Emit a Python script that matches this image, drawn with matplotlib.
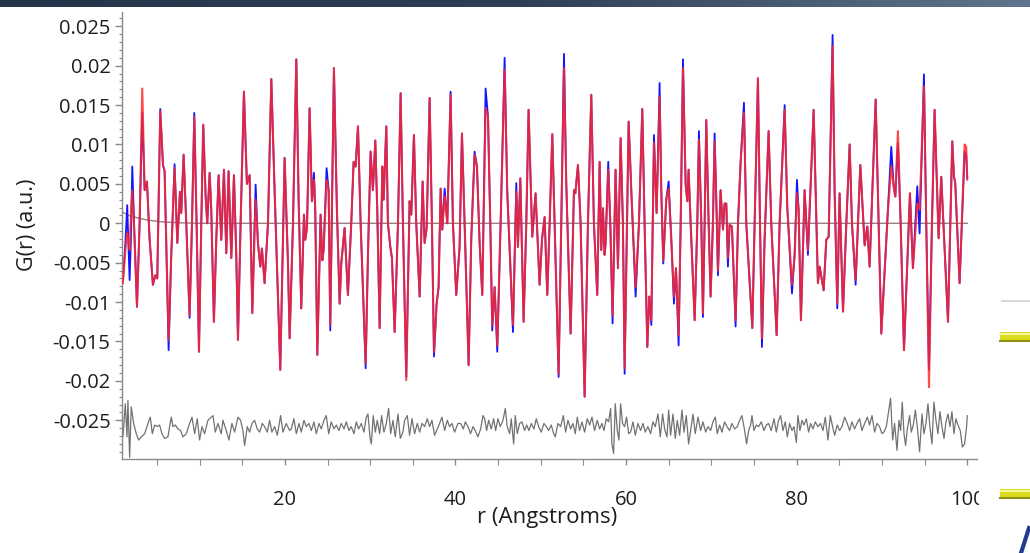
import numpy as np
import matplotlib
matplotlib.use("Agg")
import matplotlib.pyplot as plt
from matplotlib.ticker import MultipleLocator, FixedLocator, FixedFormatter
from matplotlib.patches import Rectangle
from matplotlib.lines import Line2D
from matplotlib.colors import LinearSegmentedColormap

plt.rcParams['font.family'] = ['Open Sans', 'DejaVu Sans']

# ---------------- data (G values in units of 1e-3) ----------------
r_pts = [
    1.00, 1.30, 1.52, 1.65, 1.80, 1.95, 2.11, 2.38, 2.66, 2.97,
    3.28, 3.56, 3.83, 4.14, 4.53, 4.81, 5.04, 5.39, 5.71, 5.90,
    6.37, 6.68, 7.07, 7.39, 7.70, 7.85, 8.13, 8.44, 8.83, 9.11,
    9.38, 9.65, 9.93, 10.20, 10.43, 10.71, 10.90, 11.18, 11.37, 11.68,
    11.96, 12.23, 12.54, 12.86, 13.13, 13.40, 13.72, 14.03, 14.30, 14.50,
    14.81, 15.20, 15.55, 15.87, 16.18, 16.57, 16.84, 17.12, 17.31, 17.62,
    18.02, 18.41, 18.80, 19.46, 19.97, 20.36, 20.56,
    20.95, 21.34, 21.61, 21.92, 22.24, 22.39, 22.59, 22.90, 23.17, 23.41,
    23.56, 23.80, 24.19, 24.39, 24.54, 24.89, 25.13, 25.32, 25.75, 26.10,
    26.42, 26.61, 27.00, 27.39, 27.78, 28.06, 28.29, 28.57, 28.88, 29.47,
    29.74, 30.05, 30.32, 30.60, 30.83, 31.11, 31.42, 31.58, 31.89, 32.08,
    32.36, 32.55, 32.87, 33.26, 33.57, 33.84, 34.23, 34.62, 34.82, 35.13,
    35.40, 35.80, 36.15, 36.38, 36.62, 36.97, 37.24, 37.48, 37.79, 38.02,
    38.26, 38.45, 38.73, 39.04, 39.43, 39.70, 40.09, 40.48,
    40.76, 41.07, 41.54, 41.85, 42.24, 42.52, 42.83, 43.14, 43.53, 43.81,
    44.08, 44.31, 44.59, 44.90, 45.29, 45.76, 46.07, 46.74, 47.13, 47.32,
    47.60, 47.99, 48.30, 48.57, 49.00, 49.39, 49.67, 49.86, 50.14, 50.45,
    50.76, 51.04, 51.35, 51.62, 52.09, 52.40, 52.72, 52.99, 53.50, 53.89,
    54.05, 54.36, 54.67, 55.14, 55.53, 55.92, 56.23, 56.62, 56.90, 57.09,
    57.29, 57.48, 57.60, 57.91, 58.15, 58.42, 58.77, 59.05, 59.36, 59.63,
    59.83, 60.30,
    60.61, 61.12, 61.51, 61.90, 62.17, 62.49, 62.72, 62.96, 63.27, 63.58,
    63.93, 64.13, 64.36, 64.71, 64.99, 65.30, 65.61, 65.85, 66.16, 66.40,
    66.67, 66.98, 67.18, 67.33, 67.57, 68.04, 68.35, 68.54, 68.82, 69.01,
    69.21, 69.40, 69.68, 69.91, 70.18, 70.38, 70.60, 70.77, 71.08, 71.36,
    71.55, 71.75, 71.94, 72.14, 72.41, 72.84, 73.12, 73.43, 73.82, 74.09,
    74.80, 75.07, 75.46, 75.70, 75.93, 76.24, 76.71, 77.02, 77.65, 78.00,
    78.59, 78.90, 79.45, 79.76, 80.03, 80.23, 80.50,
    80.93, 81.32, 81.99, 82.49, 82.69, 83.16, 83.47, 83.75, 84.21, 84.45,
    84.76, 85.03, 85.43, 85.82, 86.21, 86.48, 86.91, 87.46, 87.97, 88.28,
    88.55, 89.26, 89.92, 90.70, 91.09, 91.37, 91.56, 91.87, 92.19, 92.58,
    93.28, 93.63, 94.14, 94.41, 94.92, 95.19, 95.51, 95.86, 96.17, 96.64,
    96.95, 97.74, 98.24, 98.44, 98.59, 99.10, 99.69, 99.88, 100.00,
]

g_obs_milli = [
    -7.6, -2.5, 2.3, -2.5, -7.2, -2.0, 7.2, -2.0, -10.6, 0.0,
    14.0, 4.2, 5.3, -2.0, -7.8, -6.6, -7.0, 14.5, 7.4, 6.6,
    -16.1, -4.0, 7.5, -2.5, 4.0, 1.3, 8.7, 0.0, -12.0, 0.0,
    14.0, 0.0, -16.3, 0.0, 12.5, 3.4, 0.0, 6.4, 1.7, -12.5,
    -2.0, 6.1, -2.1, 6.8, -3.8, 6.6, -4.4, 6.1, -4.0, -14.8,
    0.0, 16.7, 5.0, 6.1, -11.4, 4.9, -2.5, -5.5, -3.2, -7.6,
    0.0, 18.3, 4.0, -18.6, 8.3, -5.0, -14.6,
    0.0, 20.8, 3.0, -10.8, 1.1, -2.1, -0.6, 14.6, 2.8, 6.4,
    1.7, -16.7, 1.1, -4.7, -3.4, 7.0, 4.2, -13.6, 19.7, 1.7,
    -10.2, -5.1, -0.6, -9.1, 0.0, 7.8, 7.2, 12.3, 0.0, -18.4,
    -4.0, 9.1, 4.2, 10.5, 1.7, -13.3, 7.2, 3.0, 12.3, 0.0,
    -3.0, -4.4, -13.8, 0.0, 16.5, 0.0, -19.5, 2.8, 1.1, 11.2,
    0.0, -9.3, 5.3, -2.5, -0.6, 15.9, 0.0, -16.9, -10.2, -8.1,
    4.4, -0.8, 4.4, 0.0, 16.7, 0.0, -9.1, -3.0,
    11.4, 0.0, -18.0, -2.0, 9.1, 7.2, -2.5, -9.1, 17.1, 13.6,
    0.0, -13.6, -8.1, -16.3, 0.0, 21.0, 4.0, -13.8, 5.1, -3.0,
    5.7, -12.5, 0.0, 14.4, -1.7, 3.8, -3.0, -7.8, -2.1, 0.8,
    -9.1, 0.0, 11.3, 0.0, -19.5, 0.0, 21.5, 5.0, -14.0, 4.2,
    3.8, 7.4, 0.0, -22.0, 0.0, 16.3, 0.0, -9.1, 7.8, -3.4,
    1.9, -4.0, -2.5, 7.8, 0.0, -12.7, 6.8, -5.7, 10.8, 0.0,
    -19.1, 12.9,
    4.2, -9.3, 0.0, 14.5, 0.0, -15.7, -9.3, -12.9, 11.2, 1.3,
    17.8, 4.0, -5.1, 3.0, 5.3, -2.0, -10.2, -5.7, -15.5, 0.0,
    20.8, 5.0, 2.8, 6.8, 0.0, -12.3, 0.0, 11.7, 0.0, -11.9,
    0.0, 13.1, 0.0, -9.3, 0.0, 11.4, 2.0, -6.6, 4.2, -0.8,
    2.5, 2.5, -5.5, -0.2, -0.4, -13.1, 0.0, 7.8, 15.3, 0.0,
    -13.3, 0.0, 18.4, 0.0, -15.7, -2.0, 11.7, 0.0, -14.2, 0.0,
    15.0, 2.0, -8.9, -4.0, 5.5, 1.7, -12.3,
    4.2, -4.0, 14.4, -7.6, -5.5, -8.5, -2.1, -1.7, 23.9, 4.0,
    -10.8, 3.8, -11.2, 0.0, 10.0, 0.0, -7.8, 7.4, -2.8, -0.4,
    -5.5, 15.7, -14.0, 1.7, 9.7, 4.7, 3.4, 10.2, 0.0, -16.1,
    3.8, -5.7, 4.7, -1.3, 18.9, 0.0, -18.6, 0.0, 14.4, -1.9,
    5.9, -12.5, 10.4, 5.9, 5.1, -7.6, 9.1, 8.5, 5.7,
]

g_calc_milli = [
    -7.6, -3.4, -1.3, -2.1, -3.4, 0.8, 4.2, -2.0, -10.6, 0.0,
    17.1, 4.2, 5.3, -2.0, -7.8, -6.6, -7.0, 14.2, 7.4, 6.6,
    -14.8, -4.0, 7.0, -2.5, 4.0, 1.3, 8.7, 0.0, -11.7, 0.0,
    13.5, 0.0, -16.3, 0.0, 12.5, 3.4, 0.0, 6.4, 1.7, -12.5,
    -2.0, 6.1, -2.1, 6.8, -3.8, 6.6, -4.4, 6.1, -4.0, -14.8,
    0.0, 16.7, 5.0, 6.1, -11.4, 3.0, -2.5, -5.5, -3.2, -7.6,
    0.0, 18.3, 4.0, -18.6, 8.3, -5.0, -14.6,
    0.0, 20.8, 3.0, -10.8, 1.1, -2.1, -0.6, 14.6, 2.8, 5.5,
    1.7, -16.7, 1.1, -4.7, -3.4, 5.5, 4.2, -12.9, 19.7, 1.7,
    -10.2, -5.1, -0.6, -9.1, 0.0, 7.8, 7.2, 12.3, 0.0, -17.8,
    -4.0, 9.1, 4.2, 10.5, 1.7, -13.3, 7.2, 3.0, 12.3, 0.0,
    -3.0, -4.4, -13.8, 0.0, 16.5, 0.0, -19.9, 2.8, 1.1, 11.2,
    0.0, -9.3, 5.3, -2.5, -0.6, 15.9, 0.0, -16.3, -10.2, -8.1,
    4.4, -0.8, 3.4, 0.0, 16.3, 0.0, -9.1, -3.0,
    11.4, 0.0, -18.0, -2.0, 8.7, 7.2, -2.5, -9.1, 14.6, 13.6,
    0.0, -12.9, -8.1, -15.5, 0.0, 19.5, 4.0, -12.9, 4.0, -3.0,
    5.7, -12.5, 0.0, 14.4, -1.7, 3.8, -3.0, -7.8, -2.1, 0.8,
    -9.1, 0.0, 11.3, 0.0, -19.1, 0.0, 19.7, 5.0, -14.0, 4.2,
    3.8, 7.4, 0.0, -22.0, 0.0, 16.3, 0.0, -9.1, 7.8, -3.4,
    1.9, -4.0, -2.5, 6.8, 0.0, -11.7, 6.8, -5.7, 10.8, 0.0,
    -18.4, 12.9,
    4.2, -8.1, 0.0, 14.5, 0.0, -15.7, -9.3, -12.3, 10.2, 1.3,
    16.1, 4.0, -4.7, 3.0, 4.4, -2.0, -9.3, -5.7, -14.2, 0.0,
    19.7, 5.0, 2.8, 6.8, 0.0, -12.3, 0.0, 10.6, 0.0, -11.4,
    0.0, 13.1, 0.0, -9.3, 0.0, 10.4, 2.0, -6.0, 4.2, -0.8,
    2.5, 2.5, -4.4, -0.2, -0.4, -12.3, 0.0, 7.8, 14.0, 0.0,
    -13.3, 0.0, 18.4, 0.0, -14.6, -2.0, 11.7, 0.0, -14.2, 0.0,
    14.4, 2.0, -7.8, -4.0, 3.8, 1.7, -12.3,
    4.2, -3.4, 14.4, -7.6, -5.5, -8.5, -2.1, -1.7, 22.5, 4.0,
    -10.2, 3.8, -11.2, 0.0, 10.0, 0.0, -7.2, 7.4, -2.8, -0.4,
    -5.5, 15.7, -14.0, 1.7, 7.2, 4.7, 3.4, 11.7, 0.0, -16.1,
    3.8, -5.7, 2.5, 1.7, 17.4, 0.0, -20.8, 0.0, 14.4, -1.9,
    5.9, -12.5, 10.4, 5.9, 5.1, -7.6, 10.0, 9.7, 5.5,
]

# difference curve (drawn with its offset, as in the picture)
r_res = [
    1.02, 1.29, 1.49, 1.60, 1.80, 1.99, 2.27, 2.58, 2.85, 3.17,
    3.56, 3.95, 4.22, 4.46, 4.73, 5.04, 5.31, 5.59, 5.90, 6.29,
    6.68, 6.88, 7.15, 7.46, 7.78, 8.05, 8.44, 8.83, 9.11, 9.42,
    9.73, 10.00, 10.28, 10.59, 10.98, 11.57, 11.84, 12.15, 12.54, 12.74,
    13.13, 13.44, 13.79, 14.11, 14.50, 14.81, 15.08, 15.28, 15.59, 15.87,
    16.14, 16.45, 16.76, 17.04, 17.35, 17.62, 17.94, 18.21, 18.48, 18.80,
    19.11, 19.50, 19.77, 20.16, 20.56,
    20.75, 21.06, 21.34, 21.65, 21.92, 22.24, 22.51, 22.82, 23.10, 23.41,
    23.68, 24.00, 24.27, 24.58, 24.85, 25.13, 25.44, 25.75, 26.03, 26.34,
    26.61, 26.93, 27.20, 27.51, 27.78, 28.10, 28.37, 28.64, 28.96, 29.27,
    29.54, 29.74, 29.97, 30.13, 30.36, 30.60, 30.83, 31.11, 31.34, 31.61,
    31.89, 32.16, 32.40, 32.67, 32.94, 33.26, 33.53, 33.84, 34.04, 34.35,
    34.62, 34.90, 35.21, 35.52, 35.80, 36.07, 36.38, 36.69, 36.97, 37.24,
    37.55, 37.87, 38.14, 38.41, 38.73, 39.04, 39.31, 39.59, 39.90, 40.29,
    40.60, 40.92, 41.15, 41.46, 41.77, 42.05, 42.32, 42.63, 42.95, 43.22,
    43.42, 43.65, 43.89, 44.20, 44.47, 44.71, 44.98, 45.25, 45.57, 45.84,
    46.07, 46.35, 46.54, 46.82, 47.01, 47.25, 47.52, 47.79, 48.11, 48.34,
    48.61, 48.89, 49.20, 49.47, 49.75, 50.06, 50.37, 50.65, 50.92, 51.23,
    51.51, 51.70, 52.01, 52.33, 52.64, 52.91, 53.19, 53.50, 53.77, 54.05,
    54.28, 54.55, 54.83, 55.14, 55.45, 55.73, 56.00, 56.31, 56.62, 56.90,
    57.17, 57.41, 57.68, 57.95, 58.19, 58.34, 58.54, 58.73, 58.97, 59.16,
    59.36, 59.59, 59.83, 60.06,
    60.30, 60.53, 60.81, 61.08, 61.39, 61.70, 61.98, 62.25, 62.56, 62.88,
    63.15, 63.42, 63.74, 64.01, 64.28, 64.52, 64.79, 64.99, 65.22, 65.50,
    65.77, 66.00, 66.28, 66.55, 66.79, 67.06, 67.33, 67.57, 67.84, 68.11,
    68.43, 68.74, 69.01, 69.33, 69.60, 69.91, 70.18, 70.46, 70.69, 70.97,
    71.24, 71.55, 71.83, 72.14, 72.41, 72.73, 73.04, 73.31, 73.58, 73.90,
    74.13, 74.37, 74.60, 74.76, 74.99, 75.26, 75.54, 75.85, 76.16, 76.44,
    76.71, 77.02, 77.34, 77.61, 77.88, 78.12, 78.39, 78.66, 78.90, 79.17,
    79.45, 79.68, 79.96, 80.15,
    80.38, 80.62, 80.85, 81.13, 81.40, 81.63, 81.91, 82.18, 82.49, 82.81,
    83.08, 83.35, 83.67, 83.94, 84.21, 84.45, 84.76, 85.03, 85.31, 85.62,
    85.93, 86.21, 86.48, 86.79, 87.07, 87.38, 87.65, 87.97, 88.28, 88.55,
    88.83, 89.14, 89.41, 89.72, 90.00, 90.23, 90.51, 90.78, 91.01, 91.25,
    91.48, 91.76, 91.99, 92.19, 92.38, 92.58, 92.77, 92.97, 93.24, 93.44,
    93.67, 93.91, 94.14, 94.41, 94.69, 94.92, 95.16, 95.39, 95.62, 95.86,
    96.09, 96.33, 96.56, 96.80, 97.03, 97.27, 97.50, 97.74, 97.97, 98.20,
    98.44, 98.67, 98.91, 99.18, 99.42, 99.69, 99.92, 100.00,
]

g_res_milli = [
    -27.1, -22.9, -27.1, -22.5, -29.7, -23.3, -25.4, -26.7, -27.5, -27.1,
    -26.7, -25.4, -24.6, -26.7, -25.6, -25.8, -25.6, -26.7, -27.3, -27.1,
    -24.6, -25.8, -25.6, -26.1, -26.3, -27.1, -26.7, -25.4, -24.6, -26.7,
    -24.8, -27.5, -25.8, -26.7, -25.0, -24.4, -26.5, -25.4, -26.7, -25.0,
    -26.3, -27.5, -25.4, -26.5, -24.6, -25.0, -26.3, -28.2, -25.8, -26.5,
    -25.4, -25.0, -26.1, -26.5, -25.4, -25.8, -26.5, -25.0, -26.5, -25.8,
    -26.9, -24.4, -26.5, -25.4, -26.3,
    -26.1, -24.8, -26.7, -25.4, -26.5, -25.0, -25.8, -25.4, -26.3, -25.2,
    -26.7, -25.4, -26.1, -25.0, -24.4, -26.7, -25.2, -26.1, -25.6, -26.3,
    -25.4, -26.1, -25.2, -26.3, -25.8, -26.7, -25.2, -26.1, -25.4, -26.5,
    -24.6, -24.2, -27.1, -28.0, -24.4, -26.5, -25.0, -26.7, -24.4, -26.5,
    -25.4, -23.5, -26.7, -25.0, -27.1, -24.2, -27.3, -26.5, -25.0, -24.4,
    -26.9, -24.8, -26.7, -25.4, -26.5, -25.4, -25.8, -24.8, -25.8, -25.0,
    -26.9, -26.1, -25.4, -24.6, -26.3, -25.0, -25.8, -25.4, -26.5, -25.4,
    -25.4, -26.1, -25.2, -25.8, -26.7, -25.8, -26.3, -27.1, -26.1, -24.4,
    -24.8, -26.3, -25.0, -26.1, -24.8, -26.3, -24.8, -25.8, -25.0, -23.5,
    -25.8, -26.7, -24.8, -28.0, -24.4, -26.7, -25.4, -25.2, -26.3, -25.6,
    -26.3, -25.4, -26.1, -24.8, -25.8, -26.5, -25.4, -25.8, -26.3, -25.6,
    -26.7, -27.1, -25.4, -25.8, -24.4, -26.5, -25.0, -26.1, -25.4, -26.7,
    -24.6, -26.3, -25.2, -26.5, -24.8, -25.6, -24.6, -26.3, -25.0, -26.1,
    -25.4, -26.3, -24.8, -25.2, -23.5, -28.0, -29.2, -22.9, -26.3, -27.5,
    -22.9, -25.4, -25.8, -24.6,
    -26.7, -26.5, -25.2, -26.9, -25.4, -26.3, -25.4, -26.5, -25.8, -26.7,
    -25.2, -25.8, -24.2, -27.1, -24.2, -26.1, -27.1, -23.7, -26.9, -24.2,
    -27.3, -25.0, -26.9, -23.7, -26.5, -24.4, -28.0, -26.3, -24.2, -26.7,
    -24.6, -26.3, -25.2, -26.5, -25.8, -26.3, -25.2, -24.6, -26.7, -25.6,
    -26.5, -25.2, -25.8, -26.3, -25.4, -26.1, -25.8, -25.0, -24.4, -26.3,
    -28.0, -26.3, -25.6, -24.4, -26.3, -25.6, -25.8, -25.2, -26.3, -25.6,
    -25.4, -26.3, -24.8, -26.5, -25.0, -24.4, -26.3, -25.2, -27.1, -25.4,
    -26.3, -25.8, -27.8, -24.4,
    -26.3, -25.0, -25.6, -24.8, -26.5, -25.4, -26.1, -25.2, -25.8, -25.4,
    -26.3, -24.6, -27.5, -24.4, -25.8, -26.9, -25.6, -26.3, -25.8, -24.6,
    -25.4, -26.3, -25.2, -26.1, -25.4, -24.8, -26.3, -25.4, -24.6, -25.6,
    -24.4, -26.5, -25.4, -25.8, -26.7, -26.5, -25.8, -23.9, -22.2, -27.5,
    -25.4, -28.8, -25.0, -26.3, -22.7, -26.7, -28.2, -26.1, -24.4, -26.5,
    -25.6, -23.7, -25.8, -29.0, -24.2, -26.7, -25.4, -22.9, -25.8, -28.0,
    -22.7, -25.0, -26.7, -23.9, -25.8, -27.3, -25.2, -24.2, -25.8, -23.9,
    -26.7, -24.8, -25.6, -26.3, -28.4, -28.0, -25.8, -24.4,
]

# baseline curve
r_base = [1.0, 1.5, 2.0, 3.0, 4.0, 5.0, 6.0, 8.0, 10.0, 100.0]
g_base_milli = [1.4, 1.1, 0.9, 0.6, 0.4, 0.25, 0.15, 0.05, 0.0, 0.0]

y_tick_vals = [0.025, 0.02, 0.015, 0.01, 0.005, 0.0,
               -0.005, -0.01, -0.015, -0.02, -0.025]
y_tick_text = ['0.025', '0.02', '0.015', '0.01', '0.005', '0',
               '-0.005', '-0.01', '-0.015', '-0.02', '-0.025']
x_tick_vals = [20, 40, 60, 80, 100]
x_tick_text = ['20', '40', '60', '80', '100']

assert len(r_pts) == len(g_obs_milli) == len(g_calc_milli)
assert len(r_res) == len(g_res_milli)

# ---------------- figure ----------------
W, H = 1030, 553
fig = plt.figure(figsize=(W / 100, H / 100), dpi=100)
fig.patch.set_facecolor('white')

ax_l, ax_r, ax_t, ax_b = 121.7, 977.0, 12.0, 459.0
ax = fig.add_axes([ax_l / W, 1 - ax_b / H, (ax_r - ax_l) / W, (ax_b - ax_t) / H])

to_g = 1e-3
line_kw = dict(solid_joinstyle='round', solid_capstyle='round')
ax.plot(r_base, np.array(g_base_milli) * to_g, color='#9a7f7f', lw=1.0, zorder=1)
ax.plot(r_res, np.array(g_res_milli) * to_g, color='#727272', lw=0.9, zorder=1, **line_kw)
ax.plot(r_pts, np.array(g_obs_milli) * to_g, color='#1414ff', lw=1.3, zorder=2, **line_kw)
ax.plot(r_pts, np.array(g_calc_milli) * to_g, color='#ff2a2a', lw=1.5, alpha=0.85,
        zorder=3, **line_kw)

ax.set_xlim(0.87, 101.14)
ax.set_ylim(-0.02991, 0.02681)

for s in ('top', 'right'):
    ax.spines[s].set_visible(False)
for s in ('left', 'bottom'):
    ax.spines[s].set_color('#8a8a8a')
    ax.spines[s].set_linewidth(1.0)

ax.yaxis.set_major_locator(FixedLocator(y_tick_vals))
ax.yaxis.set_major_formatter(FixedFormatter(y_tick_text))
ax.yaxis.set_minor_locator(MultipleLocator(0.001))
ax.xaxis.set_major_locator(FixedLocator(x_tick_vals))
ax.xaxis.set_major_formatter(FixedFormatter(x_tick_text))
ax.xaxis.set_minor_locator(MultipleLocator(5))

ax.tick_params(axis='y', which='major', direction='out', length=5, width=1,
               color='#8a8a8a', labelsize=14.5, labelcolor='#1e1e1e', pad=3)
ax.tick_params(axis='y', which='minor', direction='out', length=2.5, width=0.8,
               color='#8a8a8a')
ax.tick_params(axis='x', which='major', direction='out', length=4, width=1,
               color='#8a8a8a', labelsize=14.5, labelcolor='#1e1e1e', pad=18)
ax.tick_params(axis='x', which='minor', direction='out', length=4, width=0.8,
               color='#8a8a8a')

fig.text(547 / W, 1 - 517 / H, 'r (Angstroms)', ha='center', va='center',
         fontsize=16, color='#1e1e1e')
fig.text(27 / W, 1 - 225 / H, 'G(r) (a.u.)', ha='center', va='center',
         rotation=90, fontsize=15.5, color='#1e1e1e')

# ---------------- screenshot surroundings ----------------
fig.add_artist(Rectangle((979 / W, 0), (W - 979) / W, 1 - 7 / H,
                         transform=fig.transFigure, facecolor='white',
                         edgecolor='none', zorder=10))
fig.add_artist(Line2D([1002 / W, 1], [1 - 301 / H, 1 - 301 / H],
                      transform=fig.transFigure, color='#cfcfcf', lw=1.2, zorder=11))
for y0 in (332, 489):
    fig.add_artist(Rectangle((1000 / W, 1 - (y0 + 10) / H), 30 / W, 10 / H,
                             transform=fig.transFigure, facecolor='#dcdc1e',
                             edgecolor='none', zorder=11))
    fig.add_artist(Line2D([1000 / W, 1], [1 - (y0 + 2) / H] * 2,
                          transform=fig.transFigure, color='#f4f49a', lw=1.5, zorder=12))
    fig.add_artist(Line2D([1000 / W, 1], [1 - (y0 + 9) / H] * 2,
                          transform=fig.transFigure, color='#8f8f12', lw=1.5, zorder=12))
fig.add_artist(Line2D([1021 / W, 1029 / W], [0, 1 - 528 / H],
                      transform=fig.transFigure, color='#1f3c90', lw=3, zorder=12))

bar_ax = fig.add_axes([0, 1 - 7 / H, 1, 7 / H], zorder=20)
bar_cmap = LinearSegmentedColormap.from_list('bar', ['#26344a', '#2f3e55', '#60758d'])
bar_ax.imshow(np.linspace(0, 1, 256)[None, :], aspect='auto', cmap=bar_cmap,
              extent=(0, 1, 0, 1))
bar_ax.axis('off')

fig.savefig('out.png', dpi=100, facecolor='white')
